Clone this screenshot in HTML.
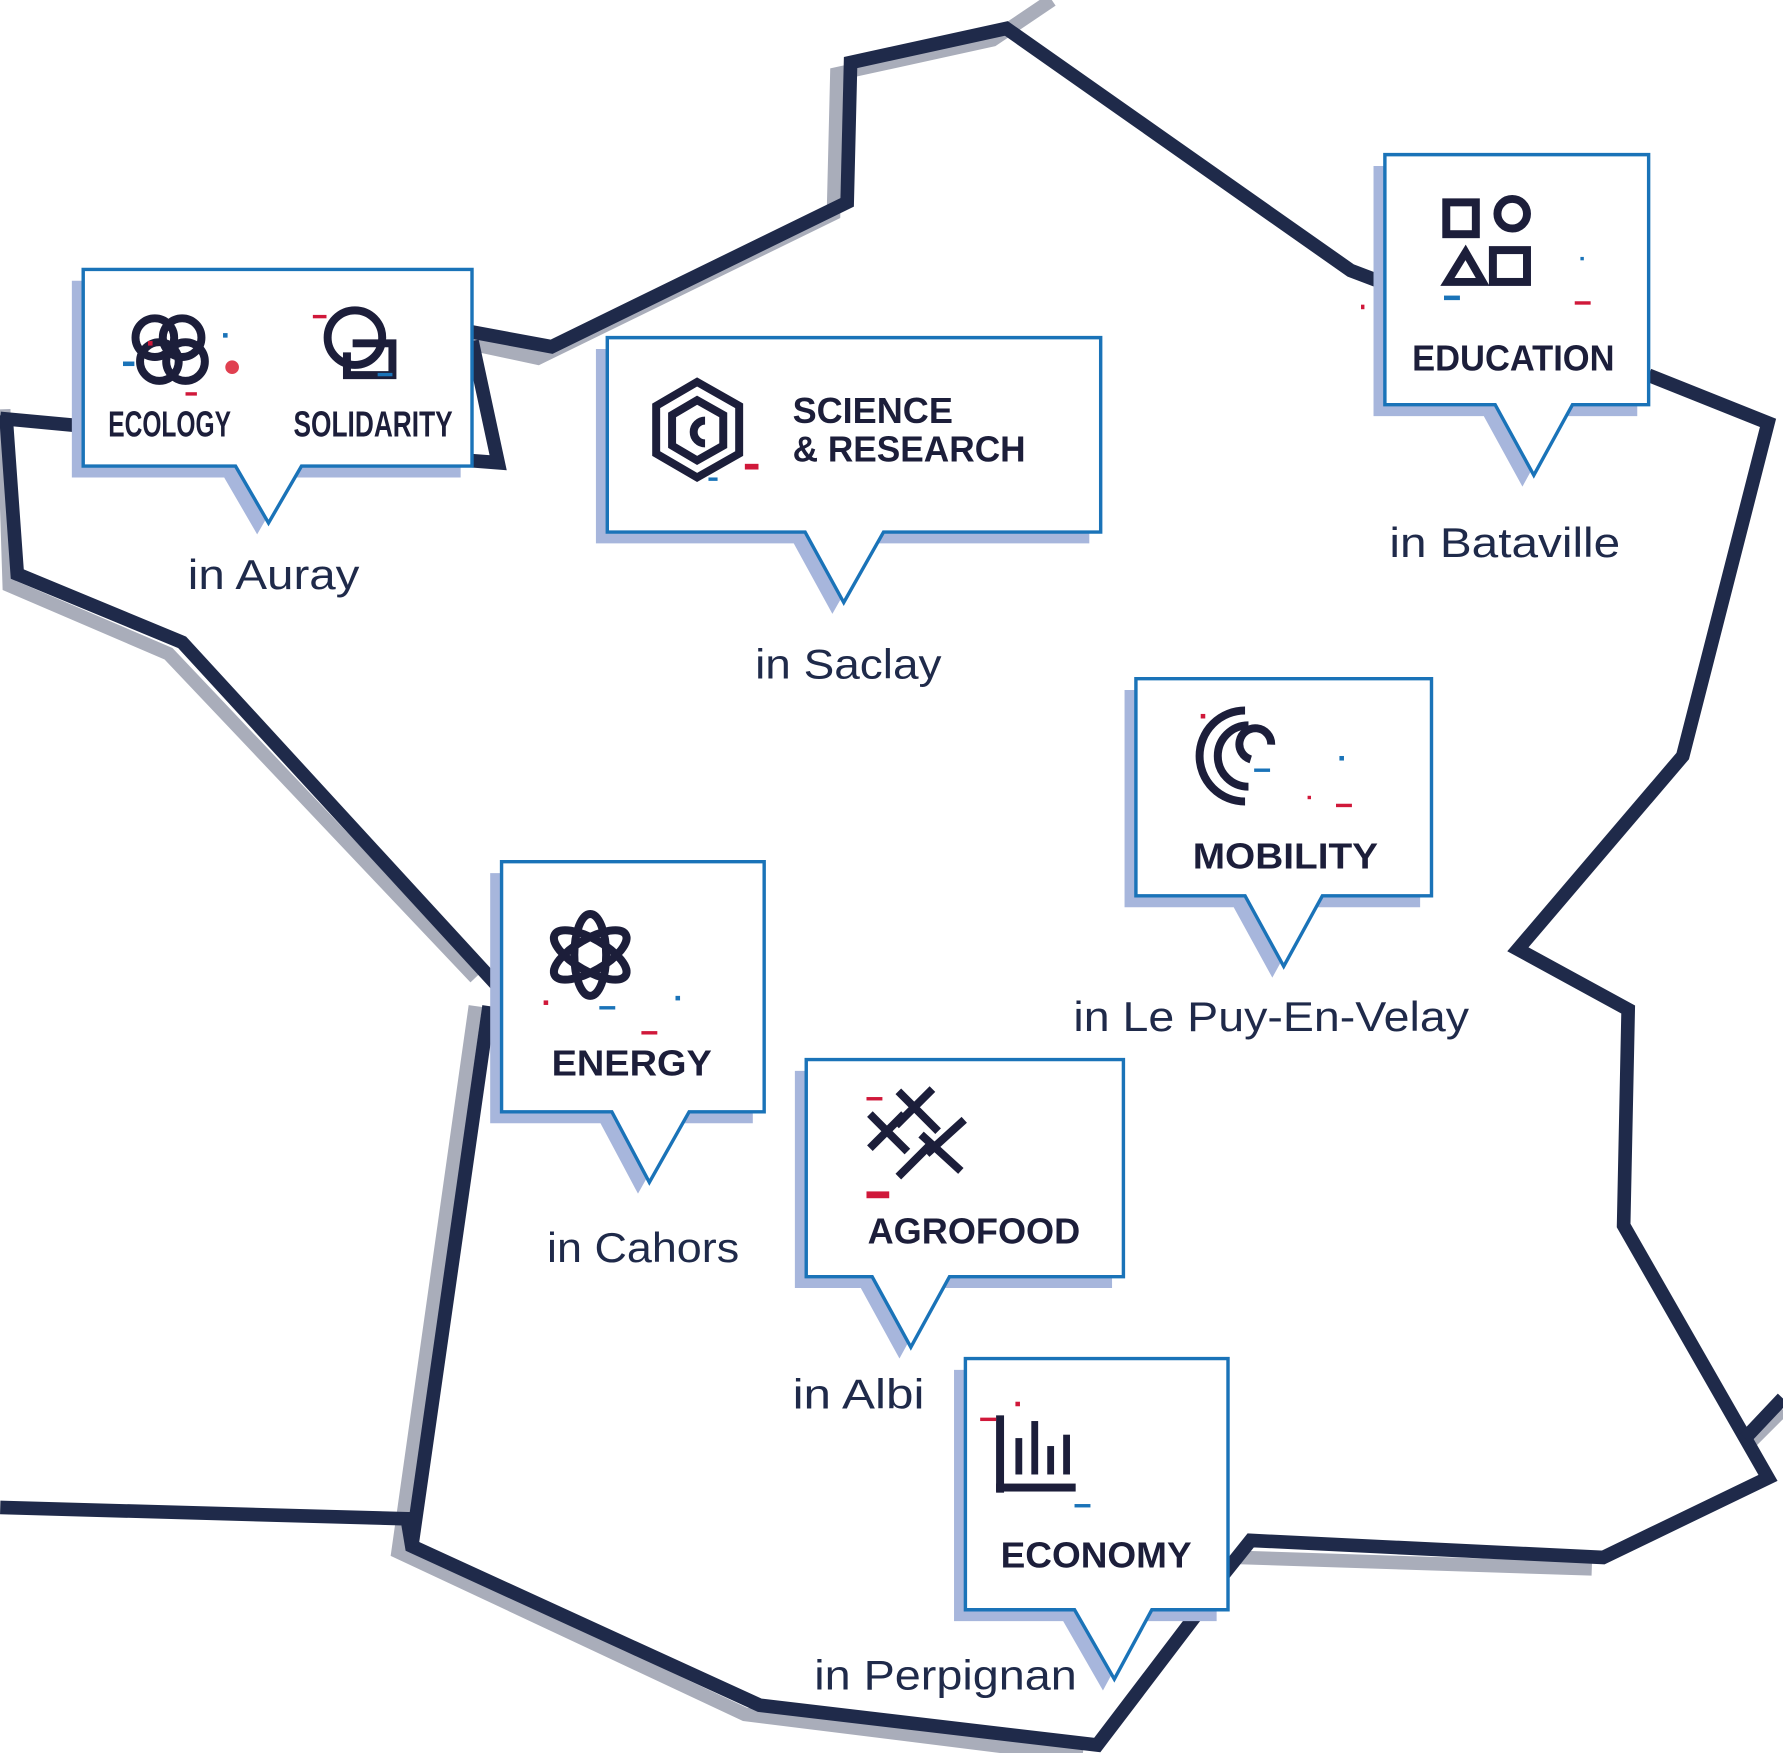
<!DOCTYPE html>
<html><head><meta charset="utf-8"><style>
html,body{margin:0;padding:0;background:#fff;}
svg{display:block;}
.lbl{font-family:"Liberation Sans",sans-serif;fill:#1f2a4a;font-size:37px;}
.ttl{font-family:"Liberation Sans",sans-serif;fill:#1c1e3a;font-weight:bold;font-size:32px;}
.ico{fill:none;stroke:#1c1e3a;stroke-width:7;}
</style></head><body>
<svg width="1783" height="1753" viewBox="0 0 1568 1542" xmlns="http://www.w3.org/2000/svg">
<g fill="none" stroke="#a9adba" stroke-width="12" stroke-linejoin="miter">
<polyline points="925,0 873,35 736,65 733,188 473,315 403,300"/>
<polyline points="3,360 8,515 148,575 418,860"/>
<polyline points="418,885 350,1365 655,1508 952,1545"/>
<polyline points="1538,1270 1568,1240"/>
<polyline points="1090,1370 1400,1380"/>
</g>
<g fill="none" stroke="#1f2a4a" stroke-width="12" stroke-linejoin="miter">
<polyline points="0,368 75,375"/>
<polyline points="415,292 485,305 745,178 748,55 885,25 1188,238 1225,252"/>
<polyline points="415,300 438,407 412,405"/>
<polyline points="1450,330 1555,372 1480,665 1335,835 1432,888 1428,1078 1555,1300 1410,1370 1100,1355 1060,1405"/>
<polyline points="1060,1410 965,1535 668,1500 362,1360 358,1336 0,1326"/>
<polyline points="362,1360 430,885"/>
<polyline points="440,870 160,565 15,505 5,365"/>
<polyline points="1535,1265 1568,1230"/>
</g>
<g fill="#a7b6dc">
<path d="M63,247 H405 V420 H255 L226,470 L197,420 H63 Z"/>
<path d="M524,307 H958 V478 H767 L732,540 L698,478 H524 Z"/>
<path d="M1208,146 H1440 V366 H1373 L1339,428 L1305,366 H1208 Z"/>
<path d="M989,607 H1249 V798 H1153 L1119,860 L1085,798 H989 Z"/>
<path d="M431,768 H662 V988 H596 L561,1050 L528,988 H431 Z"/>
<path d="M699,942 H978 V1133 H825 L791,1195 L757,1133 H699 Z"/>
<path d="M839,1205 H1070 V1426 H1003 L970,1487 L935,1426 H839 Z"/>
</g>
<g fill="#fff" stroke="#1a73b8" stroke-width="3">
<path d="M73,237 H415 V410 H265 L236,460 L207,410 H73 Z"/>
<path d="M534,297 H968 V468 H777 L742,530 L708,468 H534 Z"/>
<path d="M1218,136 H1450 V356 H1383 L1349,418 L1315,356 H1218 Z"/>
<path d="M999,597 H1259 V788 H1163 L1129,850 L1095,788 H999 Z"/>
<path d="M441,758 H672 V978 H606 L571,1040 L538,978 H441 Z"/>
<path d="M709,932 H988 V1123 H835 L801,1185 L767,1123 H709 Z"/>
<path d="M849,1195 H1080 V1416 H1013 L980,1477 L945,1416 H849 Z"/>
</g>
<g class="ico" stroke-width="5">
<circle cx="136" cy="297" r="17"/><circle cx="160" cy="297" r="17"/>
<circle cx="140" cy="318" r="17"/><circle cx="163" cy="318" r="17"/>
<circle cx="312" cy="297" r="24"/><path d="M310,302 H345 V330 H305 V310"/>
</g>
<circle cx="204" cy="323" r="6" fill="#e04050"/>
<g class="ico" stroke-width="8">
<path d="M613,336 L650,357 V399 L613,420 L577,399 V357 Z"/>
<path d="M613,352 L636,365 V392 L613,405 L591,392 V365 Z"/>
<path d="M620,370 A8,8 0 1 0 620,390"/>
</g>
<g class="ico" stroke-width="5">
<rect x="1272" y="178" width="26" height="28"/><circle cx="1330" cy="188" r="13"/>
<path d="M1273,248 L1289,222 L1304,248 Z"/><rect x="1313" y="220" width="30" height="28"/>
</g>
<g class="ico" stroke-width="6">
<path d="M1095,705 A40,40 0 0 1 1095,625"/>
<path d="M1098,692 A27,27 0 0 1 1098,638"/>
<path d="M1118,655 A14,14 0 1 0 1100,668"/>
</g>
<g class="ico" stroke-width="5">
<ellipse cx="519" cy="840" rx="36" ry="14" transform="rotate(30 519 840)"/>
<ellipse cx="519" cy="840" rx="36" ry="14" transform="rotate(-30 519 840)"/>
<ellipse cx="519" cy="840" rx="36" ry="14" transform="rotate(90 519 840)"/>
</g>
<g class="ico" stroke-width="7">
<path d="M790,960 L825,995 M820,958 L788,990"/>
<path d="M765,980 L798,1013 M765,1010 L795,980"/>
<path d="M810,998 L845,1030 M848,985 L815,1015"/>
<path d="M790,1035 L820,1005"/>
</g>
<g fill="#1c1e3a">
<rect x="876" y="1245" width="7" height="68"/><rect x="876" y="1305" width="70" height="7"/>
<rect x="893" y="1265" width="6" height="32"/><rect x="907" y="1250" width="6" height="47"/>
<rect x="921" y="1272" width="6" height="25"/><rect x="935" y="1262" width="6" height="35"/>
</g>
<g fill="#d0183a">
<rect x="130" y="300" width="4" height="4"/><rect x="163" y="345" width="10" height="3"/><rect x="275" y="277" width="12" height="3"/>
<rect x="655" y="408" width="12" height="5"/><rect x="1385" y="265" width="14" height="3"/><rect x="1197" y="268" width="3" height="4"/>
<rect x="1175" y="707" width="14" height="3"/><rect x="1150" y="700" width="3" height="3"/><rect x="1056" y="628" width="4" height="4"/>
<rect x="564" y="907" width="14" height="3"/><rect x="478" y="880" width="4" height="4"/><rect x="762" y="965" width="14" height="3"/>
<rect x="762" y="1048" width="20" height="6"/><rect x="862" y="1247" width="14" height="3"/><rect x="893" y="1233" width="4" height="4"/>
</g>
<g fill="#1a73b8">
<rect x="108" y="318" width="10" height="4"/><rect x="196" y="293" width="4" height="4"/><rect x="332" y="328" width="13" height="3"/>
<rect x="1270" y="260" width="14" height="4"/><rect x="1390" y="226" width="3" height="3"/><rect x="1178" y="665" width="4" height="4"/>
<rect x="1103" y="676" width="14" height="3"/><rect x="527" y="885" width="14" height="3"/><rect x="594" y="876" width="4" height="4"/>
<rect x="945" y="1323" width="14" height="3"/><rect x="623" y="420" width="8" height="3"/>
</g>
<g lengthAdjust="spacingAndGlyphs">
<text class="ttl" x="95" y="384" font-size="26" textLength="108" lengthAdjust="spacingAndGlyphs">ECOLOGY</text>
<text class="ttl" x="258" y="384" font-size="26" textLength="140" lengthAdjust="spacingAndGlyphs">SOLIDARITY</text>
<text class="ttl" x="697" y="372" textLength="141" lengthAdjust="spacingAndGlyphs">SCIENCE</text>
<text class="ttl" x="697" y="406" textLength="205" lengthAdjust="spacingAndGlyphs">&amp; RESEARCH</text>
<text class="ttl" x="1242" y="326" textLength="178" lengthAdjust="spacingAndGlyphs">EDUCATION</text>
<text class="ttl" x="1049" y="764" textLength="163" lengthAdjust="spacingAndGlyphs">MOBILITY</text>
<text class="ttl" x="485" y="946" textLength="141" lengthAdjust="spacingAndGlyphs">ENERGY</text>
<text class="ttl" x="763" y="1094" textLength="187" lengthAdjust="spacingAndGlyphs">AGROFOOD</text>
<text class="ttl" x="880" y="1379" textLength="168" lengthAdjust="spacingAndGlyphs">ECONOMY</text>
<text class="lbl" x="165" y="518" textLength="151" lengthAdjust="spacingAndGlyphs">in Auray</text>
<text class="lbl" x="664" y="597" textLength="164" lengthAdjust="spacingAndGlyphs">in Saclay</text>
<text class="lbl" x="1222" y="490" textLength="203" lengthAdjust="spacingAndGlyphs">in Bataville</text>
<text class="lbl" x="944" y="907" textLength="348" lengthAdjust="spacingAndGlyphs">in Le Puy-En-Velay</text>
<text class="lbl" x="481" y="1110" textLength="169" lengthAdjust="spacingAndGlyphs">in Cahors</text>
<text class="lbl" x="697" y="1239" textLength="116" lengthAdjust="spacingAndGlyphs">in Albi</text>
<text class="lbl" x="716" y="1486" textLength="231" lengthAdjust="spacingAndGlyphs">in Perpignan</text>
</g>
</svg>
</body></html>
